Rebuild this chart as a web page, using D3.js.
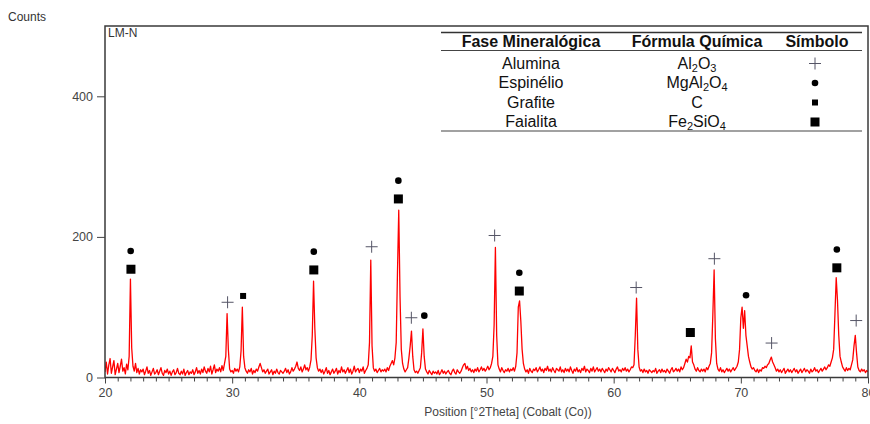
<!DOCTYPE html>
<html>
<head>
<meta charset="utf-8">
<script src="https://cdn.jsdelivr.net/npm/d3@7"></script>
<style>
  body { margin: 0; background: #fff; }
  text { font-family: "Liberation Sans", Arial, sans-serif; }
</style>
</head>
<body>
<script>
var w = 870;
var h = 424;

// scan: 20.0 .. 80.0 deg, step 0.1
var startAngle = 20.0;
var stepAngle = 0.1;
var counts = [
  8, 22, 5, 18, 27, 6, 15, 24, 4, 12,
  20, 7, 16, 26, 9, 14, 5, 19, 11, 30,
  140, 42, 16, 9, 20, 7, 13, 5, 11, 8,
  12, 4, 9, 15, 6, 10, 3, 8, 13, 5,
  7, 11, 4, 9, 14, 6, 3, 10, 7, 12,
  5, 9, 3, 8, 11, 4, 7, 13, 6, 4,
  9, 5, 12, 3, 7, 10, 4, 8, 6, 11,
  4, 8, 14, 6, 10, 5, 12, 7, 15, 9,
  6, 13, 8, 16, 5, 11, 18, 7, 12, 9,
  14, 8, 17, 10, 20, 30, 91, 40, 12, 8,
  10, 6, 13, 9, 12, 8, 15, 38, 100, 30,
  14, 9, 6, 11, 8, 13, 5, 10, 7, 12,
  9, 15, 20, 14, 8, 11, 6, 9, 12, 5,
  8, 11, 4, 9, 6, 12, 7, 5, 10, 8,
  6, 9, 13, 7, 11, 5, 8, 14, 9, 12,
  16, 22, 13, 10, 15, 8, 12, 18, 11, 14,
  9, 15, 25, 60, 137, 70, 28, 14, 9, 12,
  7, 11, 5, 9, 14, 6, 10, 4, 8, 12,
  6, 9, 13, 5, 10, 7, 15, 8, 11, 6,
  10, 14, 7, 12, 5, 9, 16, 8, 11, 13,
  7, 12, 9, 15, 6, 10, 13, 18, 50, 167,
  45, 14, 9, 12, 7, 10, 13, 8, 11, 9,
  12, 8, 14, 10, 16, 20, 24, 18, 28, 50,
  150, 238, 115, 40, 20, 12, 8, 11, 14, 28,
  45, 66, 30, 11, 7, 9, 6, 10, 14, 35,
  69, 30, 12, 8, 5, 10, 7, 4, 9, 6,
  8, 5, 10, 4, 7, 11, 6, 9, 5, 8,
  10, 6, 4, 9, 12, 7, 5, 11, 8, 6,
  9, 14, 18, 20, 12, 16, 10, 13, 8, 11,
  7, 12, 9, 14, 8, 11, 15, 10, 13, 9,
  12, 16, 11, 14, 20, 30, 75, 185, 60, 18,
  12, 8, 14, 10, 7, 11, 9, 13, 8, 12,
  10, 14, 9, 16, 35, 100, 109, 80, 40, 20,
  12, 8, 11, 6, 13, 9, 7, 12, 10, 14,
  8, 11, 15, 9, 12, 7, 13, 10, 16, 9,
  12, 8, 14, 10, 7, 13, 11, 9, 15, 8,
  11, 7, 13, 9, 12, 8, 15, 10, 6, 12,
  9, 14, 8, 11, 7, 13, 10, 16, 8, 12,
  10, 7, 13, 9, 15, 8, 11, 14, 9, 12,
  8, 13, 10, 7, 12, 9, 14, 11, 8, 13,
  10, 7, 12, 15, 9, 11, 8, 13, 10, 14,
  9, 12, 8, 11, 15, 14, 18, 60, 113, 40,
  15, 9, 11, 7, 12, 8, 10, 6, 11, 9,
  7, 10, 8, 13, 6, 9, 11, 7, 12, 8,
  10, 7, 12, 9, 6, 11, 14, 8, 10, 13,
  9, 12, 8, 15, 11, 14, 20, 26, 22, 30,
  28, 45, 22, 18, 12, 9, 14, 10, 8, 12,
  9, 12, 8, 14, 11, 16, 20, 35, 90, 153,
  55, 20, 12, 9, 14, 8, 11, 7, 10, 13,
  9, 12, 8, 11, 14, 10, 13, 16, 22, 40,
  85, 100, 70, 95, 60, 45, 30, 22, 15, 12,
  14, 10, 8, 12, 7, 11, 9, 14, 13, 16,
  14, 18, 20, 25, 29, 22, 18, 14, 9, 12,
  8, 11, 7, 10, 13, 6, 9, 12, 8, 11,
  7, 10, 13, 8, 11, 6, 9, 12, 7, 10,
  13, 8, 11, 9, 6, 12, 8, 10, 14, 9,
  11, 7, 10, 13, 9, 12, 15, 11, 14, 18,
  16, 22, 28, 40, 90, 142, 110, 60, 30, 22,
  15, 12, 9, 14, 10, 13, 11, 18, 25, 45,
  60, 35, 15, 10, 8, 12, 9, 11, 7, 10,
  8
];

// phase markers [2theta, counts]
var alumina = [[29.64,107],[40.97,186],[44.09,85],[50.64,202],[61.77,128],[67.92,169],[72.42,49],[79.07,81]];
var espinelio = [[22.02,180],[36.42,179],[43.07,280],[45.11,88],[52.58,149],[70.41,117],[77.55,182]];
var grafite = [[30.86,116]];
var faialita = [[22.04,154],[36.42,153],[43.07,254],[52.58,123],[66.03,64],[77.55,156]];

var xTicks = [20, 30, 40, 50, 60, 70, 80];
var yTicks = [0, 200, 400];

// legend table
var headers = ["Fase Mineralógica", "Fórmula Química", "Símbolo"];
var phases = ["Alumina", "Espinélio", "Grafite", "Faialita"];
var formulas = [
  [["Al",0],["2",1],["O",0],["3",1]],
  [["MgAl",0],["2",1],["O",0],["4",1]],
  [["C",0]],
  [["Fe",0],["2",1],["SiO",0],["4",1]]
];
var symbols = ["plus", "circle", "smallsq", "bigsq"];

var m = {left: 105, right: 868, top: 26, bottom: 377.5};

var svg = d3.select("body").append("svg")
  .attr("width", w)
  .attr("height", h);

var x = d3.scaleLinear().domain([20, 80]).range([m.left, m.right]);
var y = d3.scaleLinear().domain([0, 500]).range([m.bottom, m.top]);

var data = counts.map(function(c, i) { return [startAngle + i*stepAngle, c]; });

svg.append("clipPath").attr("id", "clip")
  .append("rect")
  .attr("x", m.left).attr("y", m.top)
  .attr("width", m.right - m.left).attr("height", m.bottom - m.top);

svg.append("path")
  .datum(data)
  .attr("clip-path", "url(#clip)")
  .attr("fill", "none")
  .attr("stroke", "#ff0000")
  .attr("stroke-width", 1.3)
  .attr("stroke-linejoin", "round")
  .attr("d", d3.line().x(function(d){ return x(d[0]); }).y(function(d){ return y(d[1]); }));

// frame
svg.append("rect")
  .attr("x", m.left).attr("y", m.top)
  .attr("width", m.right - m.left).attr("height", m.bottom - m.top)
  .attr("fill", "none")
  .attr("stroke", "#3a3a3a")
  .attr("stroke-width", 1.5);

// x axis
var xAxis = svg.append("g")
  .attr("transform", "translate(0," + m.bottom + ")")
  .call(d3.axisBottom(x).tickValues(xTicks).tickSize(6).tickPadding(5).tickFormat(d3.format("d")));
var xMinor = svg.append("g")
  .attr("transform", "translate(0," + m.bottom + ")")
  .call(d3.axisBottom(x).tickValues(d3.range(21, 80).filter(function(v){ return v % 10 != 0; })).tickSize(4).tickFormat(""));

var yAxis = svg.append("g")
  .attr("transform", "translate(" + m.left + ",0)")
  .call(d3.axisLeft(y).tickValues(yTicks).tickSize(8).tickPadding(4));

[xAxis, xMinor, yAxis].forEach(function(g) {
  g.select(".domain").remove();
  g.selectAll("line").attr("stroke", "#444");
  g.selectAll("text").attr("fill", "#444").attr("font-size", 12.5)
    .attr("font-family", "'Liberation Sans', Arial, sans-serif");
});

svg.append("text")
  .text("Position [°2Theta] (Cobalt (Co))")
  .attr("x", 508).attr("y", 416)
  .attr("text-anchor", "middle")
  .attr("font-size", 12)
  .attr("fill", "#444");

svg.append("text")
  .text("Counts")
  .attr("x", 8).attr("y", 21)
  .attr("font-size", 12)
  .attr("fill", "#333");

svg.append("text")
  .text("LM-N")
  .attr("x", 108).attr("y", 37)
  .attr("font-size", 12)
  .attr("fill", "#333");

// markers
function drawSymbol(g, kind, cx, cy) {
  if (kind == "plus") {
    g.append("path")
      .attr("d", "M" + (cx-6) + "," + cy + "H" + (cx+6) + "M" + cx + "," + (cy-6) + "V" + (cy+6))
      .attr("stroke", "#555566").attr("stroke-width", 1).attr("fill", "none");
  } else if (kind == "circle") {
    g.append("circle").attr("cx", cx).attr("cy", cy).attr("r", 3.3).attr("fill", "#000");
  } else {
    var s = kind == "bigsq" ? 9 : 6;
    g.append("rect").attr("x", cx - s/2).attr("y", cy - s/2)
      .attr("width", s).attr("height", s).attr("fill", "#000");
  }
}

var mk = svg.append("g");
[[alumina, "plus"], [espinelio, "circle"], [grafite, "smallsq"], [faialita, "bigsq"]].forEach(function(p) {
  p[0].forEach(function(d) { drawSymbol(mk, p[1], x(d[0]), y(d[1])); });
});

// legend table
var tb = svg.append("g");
var colX = [531, 697, 817];
tb.append("line").attr("x1", 441).attr("x2", 862).attr("y1", 32.5).attr("y2", 32.5)
  .attr("stroke", "#333").attr("stroke-width", 1.5);
tb.append("line").attr("x1", 441).attr("x2", 862).attr("y1", 50.5).attr("y2", 50.5)
  .attr("stroke", "#444").attr("stroke-width", 1);
tb.append("line").attr("x1", 441).attr("x2", 862).attr("y1", 131).attr("y2", 131)
  .attr("stroke", "#444").attr("stroke-width", 1.2);

headers.forEach(function(t, i) {
  tb.append("text").text(t)
    .attr("x", colX[i]).attr("y", 47)
    .attr("text-anchor", "middle")
    .attr("font-size", 16).attr("font-weight", "bold")
    .attr("fill", "#111");
});

phases.forEach(function(t, i) {
  var by = 68.5 + i*19.5;
  tb.append("text").text(t)
    .attr("x", colX[0]).attr("y", by)
    .attr("text-anchor", "middle")
    .attr("font-size", 16).attr("fill", "#111");
  var ft = tb.append("text")
    .attr("x", colX[1]).attr("y", by)
    .attr("text-anchor", "middle")
    .attr("font-size", 16).attr("fill", "#111");
  formulas[i].forEach(function(part) {
    ft.append("tspan").text(part[0])
      .attr("font-size", part[1] ? 11 : 16)
      .attr("dy", part[1] ? 3 : (part === formulas[i][0] ? 0 : -3));
  });
  drawSymbol(tb, symbols[i], 815, by - 5);
});
</script>
</body>
</html>
